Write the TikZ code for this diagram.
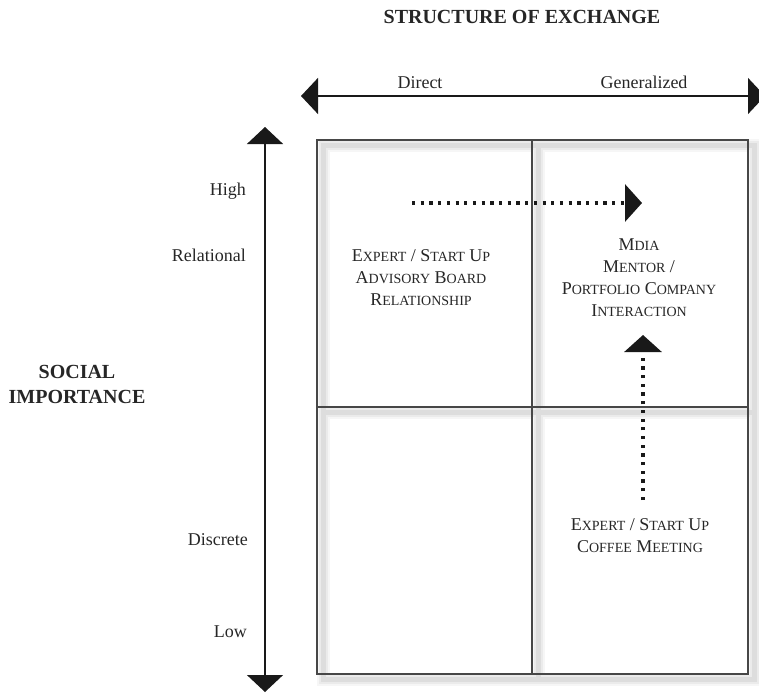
\documentclass[tikz,border=0pt]{standalone}
\usepackage{fontspec}
\setmainfont{Liberation Serif}
\usetikzlibrary{arrows.meta}
% small-caps word: full-size initial, reduced capitals after it
\newcommand\scword[2]{#1{\fontsize{14}{14}\selectfont #2}}
\begin{document}
\begin{tikzpicture}[x=1pt,y=-1pt,
  ink/.style={black!88},
  heading/.style={font=\fontsize{20}{25}\selectfont\bfseries, text=black!85, inner sep=0pt},
  axislabel/.style={font=\fontsize{18}{22}\selectfont, text=black!85, inner sep=0pt},
  cellnote/.style={font=\fontsize{18}{22}\selectfont, text=black!85, align=center, inner sep=0pt},
  axisline/.style={line width=1.3pt, black!90},
  bigtip/.style={-{Triangle[length=17pt,width=36pt]}},
  gridline/.style={line width=1.4pt, black!72},
  dotline/.style={line width=3.3pt, black!90, dash pattern=on 3.2pt off 5.5pt,
    -{Triangle[length=17pt,width=37pt]}},
]
\clip (0,0) rectangle (759,693);

% soft shadow under the grid lines
\begin{scope}[shift={(6,5)}]
  \foreach \w/\o in {13/0.035, 9/0.045, 5/0.06} {
    \draw[line width=\w pt, black, opacity=\o]
      (317,140) rectangle (748,674) (532,140) -- (532,674) (317,407) -- (748,407);
  }
\end{scope}

% two-by-two grid
\draw[gridline] (317,140) rectangle (748,674);
\draw[gridline] (532,140) -- (532,674);
\draw[gridline] (317,407) -- (748,407);

% axes
\coordinate (haxL) at (301,96);
\coordinate (haxR) at (765,96);
\coordinate (vaxT) at (265,127);
\coordinate (vaxB) at (265,692);
\draw[axisline, {Triangle[length=17pt,width=36pt]}-{Triangle[length=17pt,width=36pt]}] (haxL) -- (haxR);
\draw[axisline, {Triangle[length=17pt,width=36pt]}-{Triangle[length=17pt,width=36pt]}] (vaxT) -- (vaxB);

% headings
\node[heading, anchor=base] (title) at (522,24) {STRUCTURE OF EXCHANGE};
\node[heading, align=center] (social) at (77,384) {SOCIAL\\IMPORTANCE};

% axis labels
\node[axislabel, anchor=base] (direct) at (420,88) {Direct};
\node[axislabel, anchor=base] (generalized) at (644,88) {Generalized};
\node[axislabel, anchor=base east] (high) at (246,195) {High};
\node[axislabel, anchor=base east] (relational) at (246,261) {Relational};
\node[axislabel, anchor=base east] (discrete) at (248,545) {Discrete};
\node[axislabel, anchor=base east] (low) at (247,637) {Low};

% cell texts
\node[cellnote] (advisory) at (421,278)
  {\scword{E}{XPERT} / \scword{S}{TART} \scword{U}{P}\\
   \scword{A}{DVISORY} \scword{B}{OARD}\\
   \scword{R}{ELATIONSHIP}};
\node[cellnote] (mentor) at (639,278)
  {\scword{M}{DIA}\\
   \scword{M}{ENTOR} /\\
   \scword{P}{ORTFOLIO} \scword{C}{OMPANY}\\
   \scword{I}{NTERACTION}};
\node[cellnote] (coffee) at (640,536)
  {\scword{E}{XPERT} / \scword{S}{TART} \scword{U}{P}\\
   \scword{C}{OFFEE} \scword{M}{EETING}};

% dotted transitions
\coordinate (hs) at (412,203);
\coordinate (he) at (642,203);
\coordinate (vs) at (643,500);
\coordinate (ve) at (643,335);
\draw[dotline] (hs) -- (he);
\draw[dotline] (vs) -- (ve);
\end{tikzpicture}
\end{document}
